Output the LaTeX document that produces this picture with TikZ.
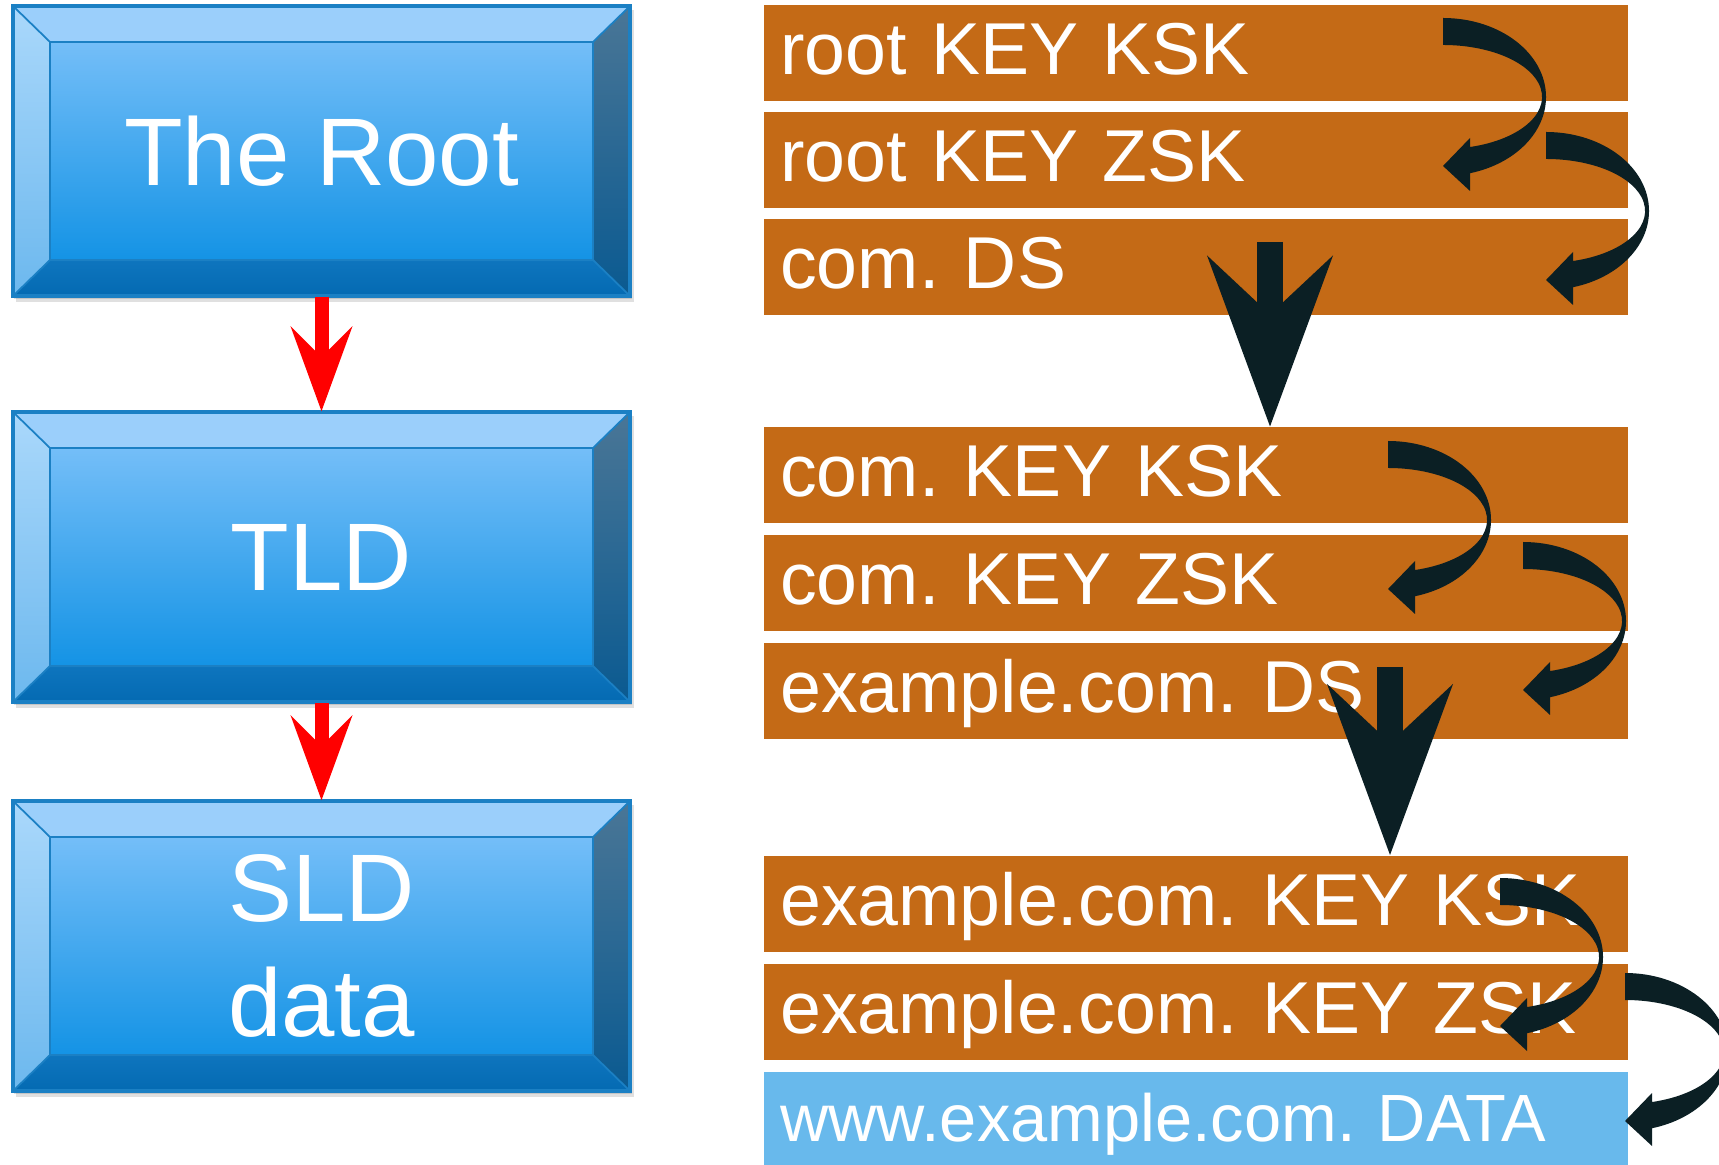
\documentclass[tikz,border=0pt]{standalone}
\usepackage{fontspec}
\setmainfont{Liberation Sans}
\frenchspacing
\usetikzlibrary{positioning,calc,arrows.meta}

\definecolor{keyorange}{RGB}{196,106,22}
\definecolor{datablue}{RGB}{104,185,236}
\definecolor{hookdark}{RGB}{11,31,36}
\definecolor{bevelrim}{RGB}{27,128,196}
\definecolor{beveltop}{RGB}{155,207,251}
\definecolor{bevelleftA}{RGB}{170,216,251}
\definecolor{bevelleftB}{RGB}{108,184,238}
\definecolor{bevelrightA}{RGB}{74,118,150}
\definecolor{bevelrightB}{RGB}{10,90,145}
\definecolor{bevelbotA}{RGB}{14,117,190}
\definecolor{bevelbotB}{RGB}{4,106,178}
\definecolor{bevelfaceA}{RGB}{116,190,248}
\definecolor{bevelfaceB}{RGB}{20,147,229}

\tikzset{
  keybar/.style={anchor=north west, fill=keyorange, text=white,
    minimum width=8.64cm, minimum height=0.96cm, text width=8.31cm,
    inner xsep=0.165cm, inner ysep=0pt, align=left,
    text height=0.57cm, text depth=0.14cm, font=\fontsize{20.9}{25}\selectfont},
  databar/.style={keybar, fill=datablue, font=\fontsize{19}{22}\selectfont},
  zonebox/.style={minimum width=6.17cm, minimum height=2.9cm, inner sep=0pt,
    text=white, align=center, font=\fontsize{27.3}{32.7}\selectfont},
  redlink/.style={draw=red, line width=0.14cm,
    -{Stealth[length=0.85cm, width=0.62cm, inset=0.31cm, line width=0pt]}},
  dslink/.style={draw=hookdark, line width=0.26cm,
    -{Stealth[length=1.71cm, width=1.26cm, inset=0.59cm, line width=0pt]}},
}

% bevelled zone box: name, top edge, label
\newcommand{\zone}[3]{
  \fill[black, opacity=.12] (16,#2+4) rectangle (634,#2+296);
  \fill[black, opacity=.12] (14,#2+2) rectangle (632,#2+293);
  \fill[beveltop] (13,#2) -- (630,#2) -- (593,#2+36) -- (50,#2+36) -- cycle;
  \shade[top color=bevelleftA, bottom color=bevelleftB]
    (13,#2) -- (50,#2+36) -- (50,#2+254) -- (13,#2+290) -- cycle;
  \shade[top color=bevelrightA, bottom color=bevelrightB]
    (630,#2) -- (630,#2+290) -- (593,#2+254) -- (593,#2+36) -- cycle;
  \shade[top color=bevelbotA, bottom color=bevelbotB]
    (13,#2+290) -- (50,#2+254) -- (593,#2+254) -- (630,#2+290) -- cycle;
  \shade[top color=bevelfaceA, bottom color=bevelfaceB] (50,#2+36) rectangle (593,#2+254);
  \draw[bevelrim, line width=0.5pt] (13,#2) -- (50,#2+36) (630,#2) -- (593,#2+36)
    (13,#2+290) -- (50,#2+254) (630,#2+290) -- (593,#2+254)
    (50,#2+36) rectangle (593,#2+254);
  \draw[bevelrim, line width=1pt] (13,#2) rectangle (630,#2+290);
  \node[zonebox] (#1) at (321.5,#2+145) {#3};
}

% curved key arrow, from its upper start corner
\newcommand{\keyhook}[1]{
  \fill[hookdark, shift={(#1)}] (0,0)
    arc[start angle=-90, end angle=74.8, x radius=103, y radius=79]
    -- (27,173) -- (0,148) -- (27,120) -- (27,129.03)
    arc[start angle=74.2, end angle=-90, x radius=99, y radius=52] -- cycle;
}

\begin{document}
\begin{tikzpicture}[x=0.01cm, y=-0.01cm]
  \useasboundingbox (0,0) rectangle (1719,1165);
  % zones
  \zone{root}{6}{The Root}
  \zone{tld}{412}{TLD}
  \zone{sld}{801}{SLD\\data}
  \draw[redlink] (root.south) -- (tld.north);
  \draw[redlink] (tld.south) -- (sld.north);
  % records
  \foreach \nm/\y/\txt in {rootksk/4/root KEY KSK, rootzsk/111/root KEY ZSK,
      comds/218/com. DS, comksk/426.5/com. KEY KSK, comzsk/534/com. KEY ZSK,
      exds/642/example.com. DS, exksk/855/example.com. KEY KSK,
      exzsk/963/example.com. KEY ZSK}
    \node[keybar] (\nm) at (763,\y) {\txt};
  \node[databar] (wwwdata) at (763,1071) {www.example.com. DATA};
  % signing hooks
  \foreach \nm/\dx/\dy in {rootksk/680/14, rootzsk/783/21, comksk/625/14.5,
      comzsk/760/8, exksk/737/23, exzsk/862/10}
    \keyhook{$(\nm.north west)+(\dx,\dy)$}
  % DS to child keys
  \coordinate (dsA) at (1270,242);
  \coordinate (dsB) at (1390,667);
  \draw[dslink] (dsA) -- (dsA |- comksk.north);
  \draw[dslink] (dsB) -- (dsB |- exksk.north);
\end{tikzpicture}
\end{document}
